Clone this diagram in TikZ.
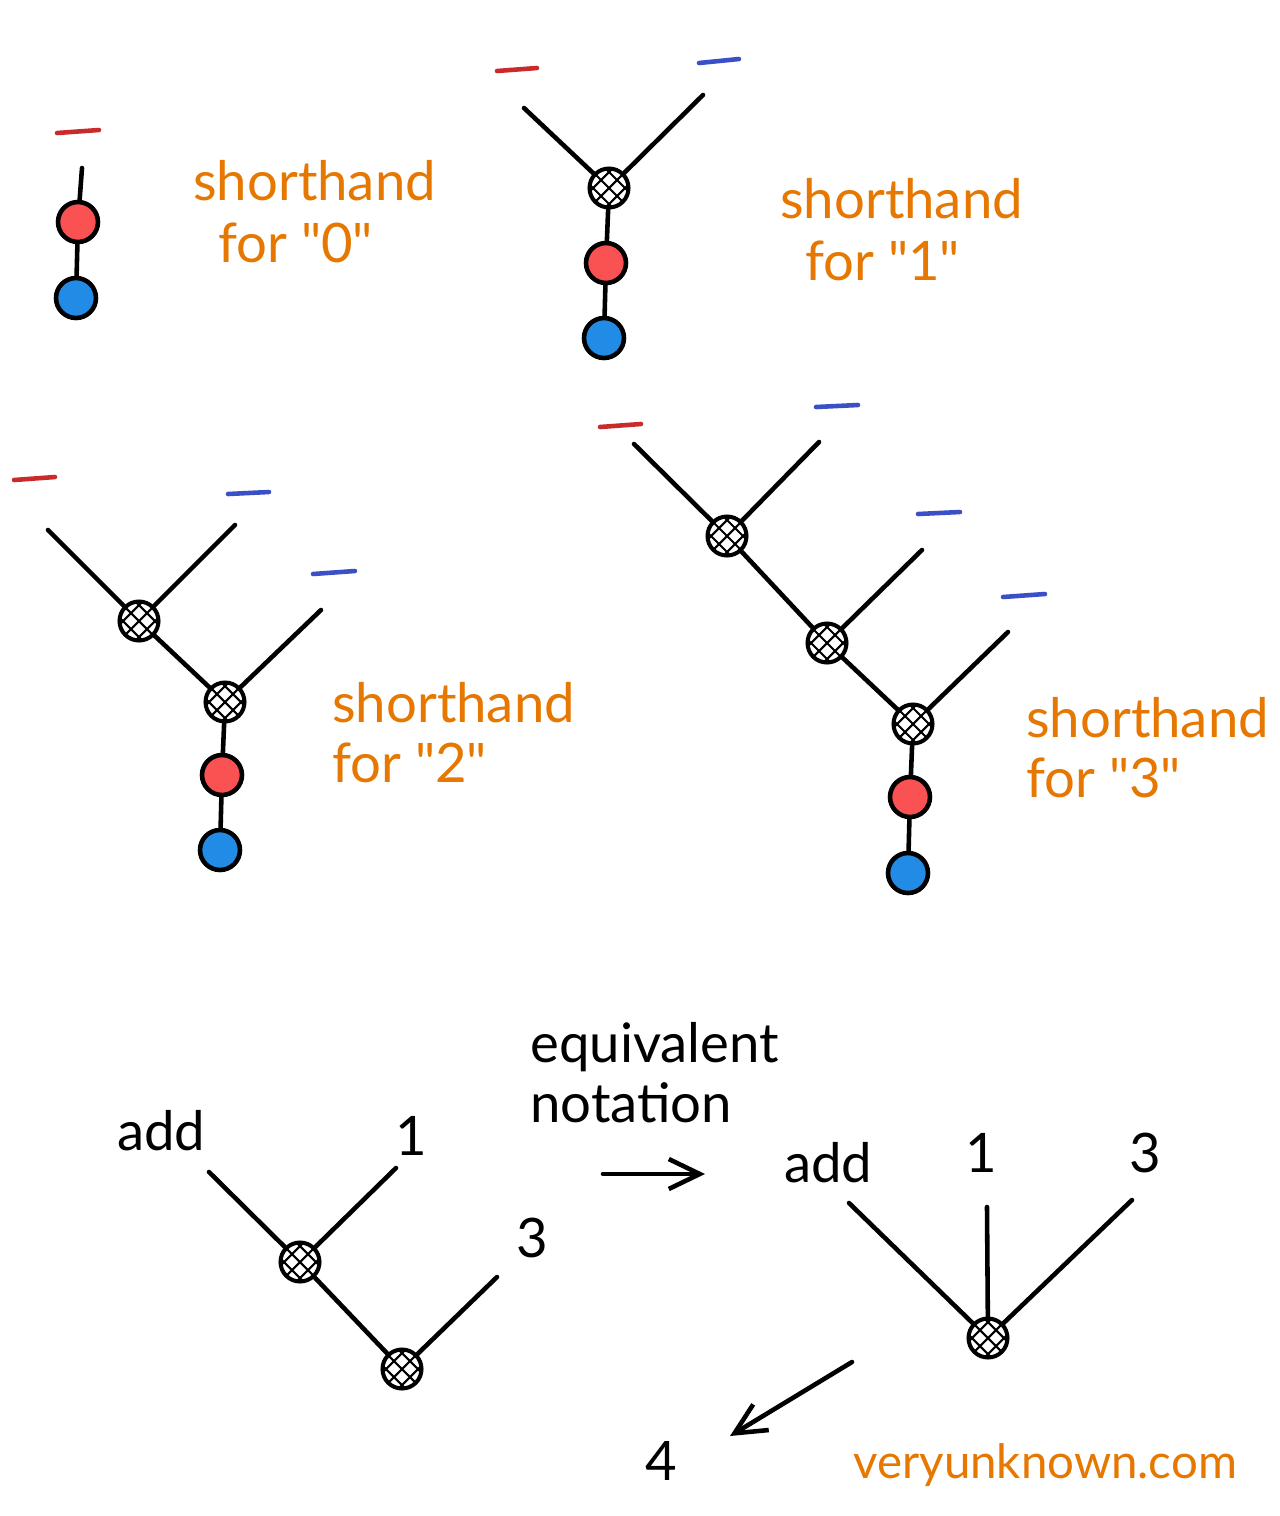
\documentclass[tikz,border=0pt]{standalone}
\usepackage{fontspec}
\newfontfamily\hand{Lato}
\usetikzlibrary{arrows.meta}
\definecolor{orng}{HTML}{E67700}
\definecolor{rfill}{HTML}{FA5252}
\definecolor{bfill}{HTML}{228BE6}
\definecolor{rstroke}{HTML}{C92A2A}
\definecolor{bstroke}{HTML}{3B4FC7}
\tikzset{
  ln/.style={line width=2.6pt, line cap=round},
  rdash/.style={line width=2.6pt, line cap=round, draw=rstroke},
  bdash/.style={line width=2.6pt, line cap=round, draw=bstroke},
  hub/.style={circle, draw, line width=2.3pt, minimum size=0.78cm, inner sep=0pt, fill=white,
    path picture={
      \foreach \d/\e in {-8/8,0/0,8/-8}{
        \draw[line width=1.2pt] ([shift={(\d-25,\e-25)}]path picture bounding box.center) -- ++(50,50);
        \draw[line width=1.2pt] ([shift={(\d-25,\d+25)}]path picture bounding box.center) -- ++(50,-50);
      }}},
  rdot/.style={circle, draw, line width=2.6pt, minimum size=0.8cm, inner sep=0pt, fill=rfill},
  bdot/.style={circle, draw, line width=2.6pt, minimum size=0.8cm, inner sep=0pt, fill=bfill},
  olbl/.style={text=orng, font=\hand\fontsize{31}{36}\selectfont, anchor=base west, inner sep=0pt},
  blbl/.style={text=black, font=\hand\fontsize{31}{36}\selectfont, anchor=base west, inner sep=0pt},
  arr/.style={line width=2.6pt, line cap=round, -{Straight Barb[length=0.62cm, width=0.6cm, line width=2.6pt]}}
}
\begin{document}
\begin{tikzpicture}[x=0.02cm, y=-0.02cm]
\useasboundingbox[fill=white] (0,0) rectangle (1280,1516);

% ---------- shorthand for 0
\draw[rdash] (57,133) -- (99,130);
\node[rdot] (r0) at (78,222) {};
\node[bdot] (b0) at (76,298) {};
\coordinate (t0) at (82,168);
\draw[ln] (t0) -- (r0);
\draw[ln] (r0) -- (b0);
\node[olbl] (s0a) at (193,200) {shorthand};
\node[olbl] (s0b) at (218,262) {for "0"};

% ---------- shorthand for 1
\draw[rdash] (497,71) -- (537,68);
\draw[bdash] (699,63) -- (739,59);
\node[hub] (h1) at (609,188) {};
\node[rdot] (r1) at (606,263) {};
\node[bdot] (b1) at (604,338) {};
\coordinate (l1) at (524,108);
\coordinate (q1) at (703,95);
\draw[ln] (l1) -- (h1);
\draw[ln] (q1) -- (h1);
\draw[ln] (h1) -- (r1);
\draw[ln] (r1) -- (b1);
\node[olbl] (s1a) at (780,218) {shorthand};
\node[olbl] (s1b) at (805,280) {for "1"};

% ---------- shorthand for 2
\draw[rdash] (14,480) -- (55,477);
\draw[bdash] (228,494) -- (269,492);
\draw[bdash] (313,574) -- (355,571);
\node[hub] (h2a) at (139,621) {};
\node[hub] (h2b) at (225,702) {};
\node[rdot] (r2) at (222,775) {};
\node[bdot] (b2) at (220,850) {};
\coordinate (l2) at (48,530);
\coordinate (q2a) at (235,525);
\coordinate (q2b) at (321,610);
\draw[ln] (l2) -- (h2a);
\draw[ln] (q2a) -- (h2a);
\draw[ln] (h2a) -- (h2b);
\draw[ln] (q2b) -- (h2b);
\draw[ln] (h2b) -- (r2);
\draw[ln] (r2) -- (b2);
\node[olbl] (s2a) at (332,722) {shorthand};
\node[olbl] (s2b) at (332,782) {for "2"};

% ---------- shorthand for 3
\draw[rdash] (600,427) -- (641,424);
\draw[bdash] (816,407) -- (858,405);
\draw[bdash] (918,514) -- (960,512);
\draw[bdash] (1003,597) -- (1045,594);
\node[hub] (h3a) at (727,536) {};
\node[hub] (h3b) at (827,643) {};
\node[hub] (h3c) at (913,724) {};
\node[rdot] (r3) at (910,797) {};
\node[bdot] (b3) at (908,873) {};
\coordinate (l3) at (634,444);
\coordinate (q3a) at (819,442);
\coordinate (q3b) at (922,550);
\coordinate (q3c) at (1008,632);
\draw[ln] (l3) -- (h3a);
\draw[ln] (q3a) -- (h3a);
\draw[ln] (h3a) -- (h3b);
\draw[ln] (q3b) -- (h3b);
\draw[ln] (h3b) -- (h3c);
\draw[ln] (q3c) -- (h3c);
\draw[ln] (h3c) -- (r3);
\draw[ln] (r3) -- (b3);
\node[olbl] (s3a) at (1026,737) {shorthand};
\node[olbl] (s3b) at (1026,797) {for "3"};

% ---------- bottom left: nested add
\node[blbl] (addL) at (117,1150) {add};
\node[blbl, anchor=base] (oneL) at (411,1155) {1};
\node[blbl, anchor=base] (threeL) at (532,1257) {3};
\node[hub] (hL1) at (300,1262) {};
\node[hub] (hL2) at (402,1369) {};
\coordinate (lL) at (209,1172);
\coordinate (qL1) at (396,1168);
\coordinate (qL2) at (497,1277);
\draw[ln] (lL) -- (hL1);
\draw[ln] (qL1) -- (hL1);
\draw[ln] (hL1) -- (hL2);
\draw[ln] (qL2) -- (hL2);

% ---------- equivalent notation arrow
\node[blbl] (eq1) at (530,1062) {equivalent};
\node[blbl] (eq2) at (530,1122) {notation};
\coordinate (aS) at (603,1174);
\coordinate (aE) at (705,1174);
\draw[arr] (aS) -- (aE);

% ---------- bottom right: flat add
\node[blbl] (addR) at (784,1182) {add};
\node[blbl, anchor=base] (oneR) at (981,1172) {1};
\node[blbl, anchor=base] (threeR) at (1145,1172) {3};
\node[hub] (hR) at (988,1338) {};
\coordinate (lR) at (849,1203);
\coordinate (mR) at (987,1207);
\coordinate (qR) at (1132,1200);
\draw[ln] (lR) -- (hR);
\draw[ln] (mR) -- (hR);
\draw[ln] (qR) -- (hR);

% ---------- result
\coordinate (bS) at (852,1362);
\coordinate (bE) at (730,1436);
\draw[arr] (bS) -- (bE);
\node[blbl, anchor=base] (four) at (661,1480) {4};
\node[olbl, font=\hand\fontsize{27}{32}\selectfont] (url) at (853,1478) {veryunknown.com};
\end{tikzpicture}
\end{document}
